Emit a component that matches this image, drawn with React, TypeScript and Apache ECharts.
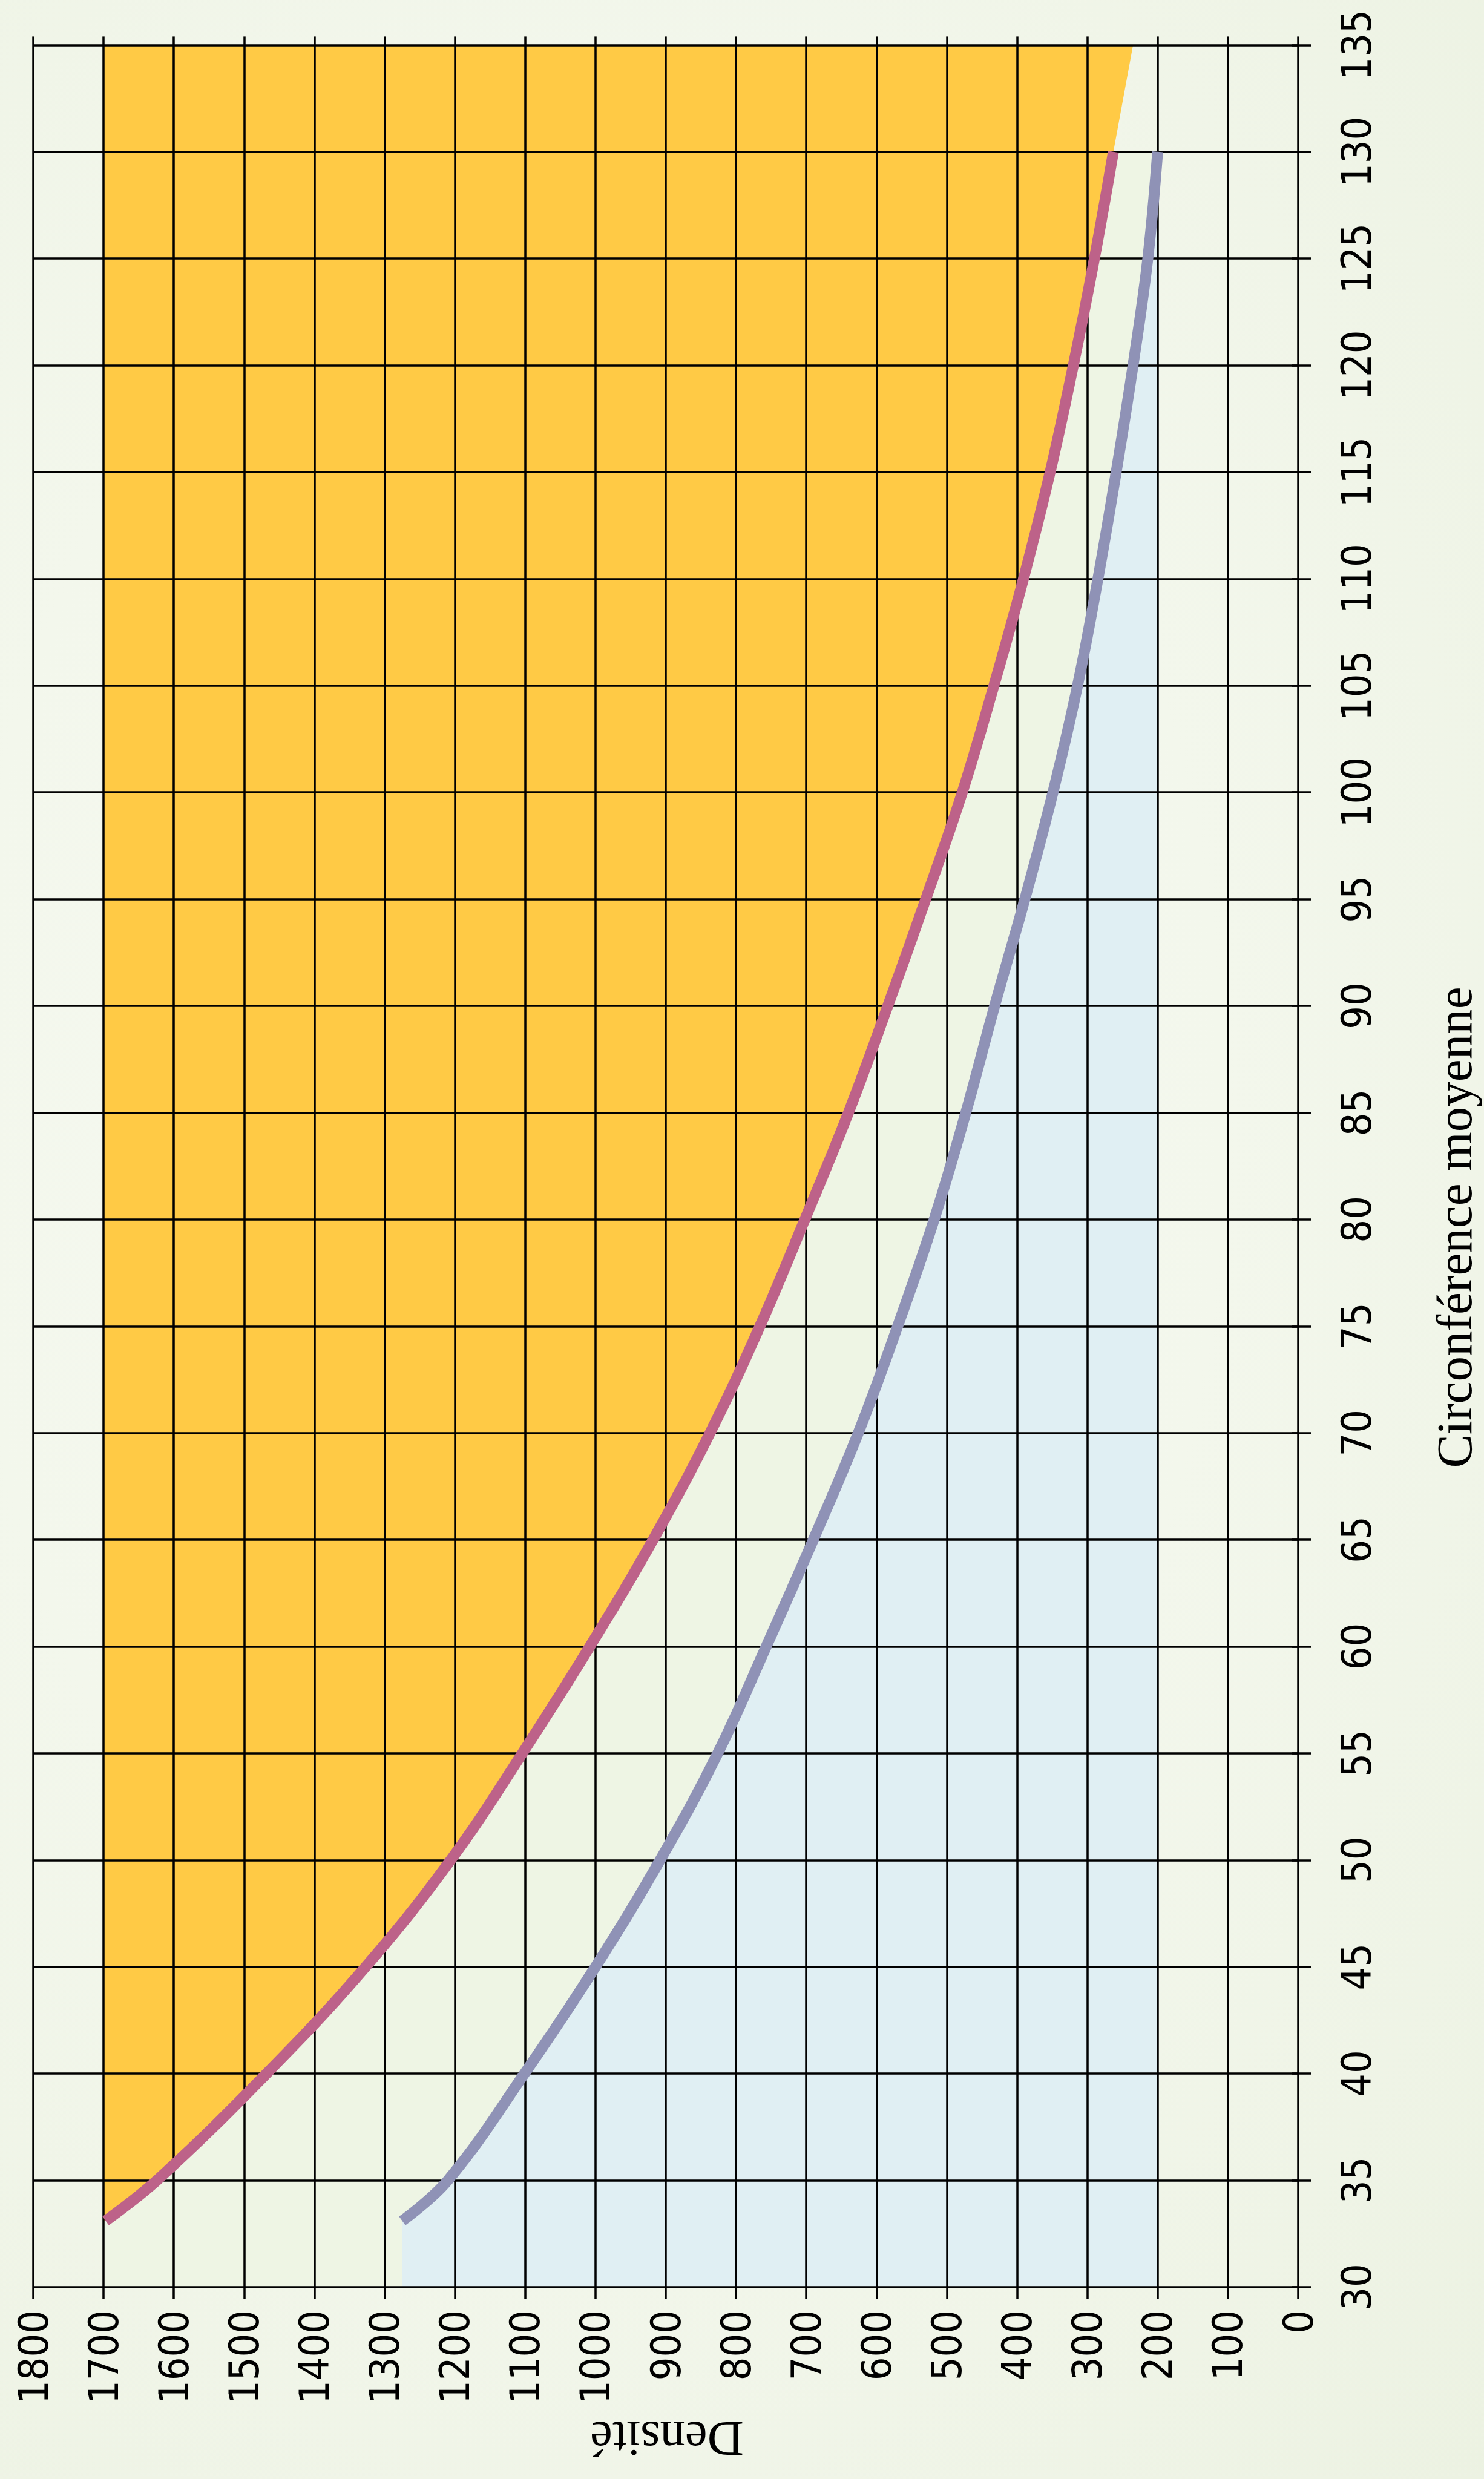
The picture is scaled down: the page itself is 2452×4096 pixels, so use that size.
import React, { useEffect, useRef } from "react";
import * as echarts from "echarts";

// Circonférence moyenne (axe vertical, 30 → 135)
const circonference = [33.1, 35, 40, 45, 50, 55, 60, 65, 70, 75, 80, 85, 90, 95, 100, 105, 110, 115, 120, 125, 130];
// Courbe haute (rouge) : densité
const densiteHaute = [1697, 1624, 1468, 1327, 1206, 1104, 1008, 918, 837, 766, 702, 640, 584, 530, 478, 433, 391, 353, 320, 290, 263];
// Courbe basse (bleue) : densité
const densiteBasse = [1275, 1210, 1101, 1000, 908, 826, 757, 690, 626, 570, 518, 473, 432, 389, 349, 314, 285, 259, 235, 214, 200];

// Limites des zones colorées
const densiteLimiteHaute = 1700;
const densiteLimiteBasse = 200;
const circMin = 30;
const circMax = 135;
const circFinCourbes = 130;
const prolongementOrange = [235, 135]; // [densité, circonférence]

const densiteMin = 0;
const densiteMax = 1800;
const densitePas = 100;
const circPas = 5;

const NAME_FONT = '"Liberation Serif", "DejaVu Serif", serif';

function fontAvailable(name: string): boolean {
  try {
    const ctx = document.createElement("canvas").getContext("2d");
    if (!ctx) return false;
    const sample = "mmmmlli1800WW";
    for (const base of ["monospace", "serif"]) {
      ctx.font = `72px ${base}`;
      const w1 = ctx.measureText(sample).width;
      ctx.font = `72px "${name}", ${base}`;
      const w2 = ctx.measureText(sample).width;
      if (Math.abs(w1 - w2) > 0.5) return true;
    }
  } catch (e) {
    return false;
  }
  return false;
}

function measure(font: string, text: string): number {
  const ctx = document.createElement("canvas").getContext("2d");
  if (!ctx) return 0;
  ctx.font = font;
  return ctx.measureText(text).width;
}

function pickTickFont(): { family: string; size: number } {
  const narrow = ["Liberation Sans Narrow", "Arial Narrow", "DejaVu Sans Condensed"];
  const targetWidth = 155; // largeur visée pour "1800"
  for (const n of narrow) {
    if (fontAvailable(n)) {
      const w = measure(`83px "${n}"`, "1800");
      const size = w > 0 ? Math.min(83, (83 * targetWidth) / w) : 83;
      return { family: `"${n}", sans-serif`, size };
    }
  }
  const fam = fontAvailable("Liberation Sans") ? '"Liberation Sans"' : "sans-serif";
  const w = measure(`83px ${fam}`, "1800");
  const size = w > 0 ? Math.min(83, (83 * targetWidth * 1.05) / w) : 72;
  return { family: `${fam}, sans-serif`, size };
}

function polygonSeries(points: number[][], color: string) {
  return {
    type: "custom",
    xAxisIndex: 0,
    yAxisIndex: 0,
    z: 0,
    silent: true,
    clip: false,
    data: [[points[0][0], points[0][1]]],
    renderItem: (_params: any, api: any) => {
      const pts = points.map((p) => api.coord([p[0], p[1]]));
      return { type: "polygon", shape: { points: pts }, style: { fill: color } };
    },
  };
}

export default function App() {
  const ref = useRef<HTMLDivElement>(null);

  useEffect(() => {
    if (!ref.current) return;
    const chart = echarts.init(ref.current, null, { renderer: "svg" });
    const tickFont = pickTickFont();

    const haute = circonference.map((c, i) => [densiteHaute[i], c]);
    const basse = circonference.map((c, i) => [densiteBasse[i], c]);

    const zoneVerte = [
      [densiteLimiteBasse, circMin],
      [densiteLimiteHaute, circMin],
      [densiteLimiteHaute, circFinCourbes],
      [densiteLimiteBasse, circFinCourbes],
    ];
    const zoneOrange = [
      [densiteLimiteHaute, circonference[0]],
      ...haute,
      prolongementOrange,
      [densiteLimiteHaute, circMax],
    ];
    const zoneBleue = [
      [densiteBasse[0], circMin],
      ...basse,
      [densiteLimiteBasse, circMin],
    ];

    const lineCol = "#000";
    const lw = 3.5;

    const option: any = {
      animation: false,
      backgroundColor: "transparent",
      grid: {
        left: 55,
        top: 74.4,
        width: 2090,
        height: 3704.5,
        containLabel: false,
        outerBoundsMode: "none",
      },
      xAxis: [
        {
          type: "value",
          min: densiteMin,
          max: densiteMax,
          interval: densitePas,
          inverse: true,
          position: "bottom",
          z: 1,
          axisLine: { show: false },
          axisTick: { show: true, length: 20, lineStyle: { color: lineCol, width: lw } },
          axisLabel: {
            rotate: 90,
            margin: 38,
            fontFamily: tickFont.family,
            fontSize: tickFont.size,
            color: "#000",
            showMinLabel: true,
            showMaxLabel: true,
            formatter: (v: number) => String(v),
          },
          splitLine: { show: true, lineStyle: { color: lineCol, width: lw } },
        },
        {
          type: "value",
          min: densiteMin,
          max: densiteMax,
          interval: densitePas,
          inverse: true,
          position: "top",
          z: 1,
          axisLine: { show: false },
          axisTick: { show: true, length: 14, lineStyle: { color: lineCol, width: lw } },
          axisLabel: { show: false },
          splitLine: { show: false },
        },
      ],
      yAxis: [
        {
          type: "value",
          min: circMin,
          max: circMax,
          interval: circPas,
          position: "right",
          z: 1,
          axisLine: { show: false },
          axisTick: { show: true, length: 21, lineStyle: { color: lineCol, width: lw } },
          axisLabel: {
            rotate: 90,
            margin: 62,
            fontFamily: tickFont.family,
            fontSize: tickFont.size,
            color: "#000",
            showMinLabel: true,
            showMaxLabel: true,
            formatter: (v: number) => String(v),
          },
          splitLine: { show: true, lineStyle: { color: lineCol, width: lw } },
        },
        {
          type: "value",
          min: circMin,
          max: circMax,
          interval: circPas,
          position: "left",
          z: 1,
          axisLine: { show: false },
          axisTick: { show: true, length: 10, lineStyle: { color: lineCol, width: lw } },
          axisLabel: { show: false },
          splitLine: { show: false },
        },
      ],
      series: [
        polygonSeries(zoneVerte, "#EEF5E4"),
        polygonSeries(zoneBleue, "#E0EFF3"),
        polygonSeries(zoneOrange, "#FFCA45"),
        {
          type: "line",
          xAxisIndex: 0,
          yAxisIndex: 0,
          z: 5,
          data: basse,
          showSymbol: false,
          symbol: "none",
          silent: true,
          smooth: 0.4,
          lineStyle: { color: "#8F92B6", width: 18, cap: "butt" },
        },
        {
          type: "line",
          xAxisIndex: 0,
          yAxisIndex: 0,
          z: 5,
          data: haute,
          showSymbol: false,
          symbol: "none",
          silent: true,
          smooth: 0.4,
          lineStyle: { color: "#BD6289", width: 18, cap: "butt" },
        },
      ],
      graphic: [
        {
          type: "text",
          x: 2403,
          y: 2028,
          rotation: Math.PI / 2,
          style: {
            text: "Circonférence moyenne",
            fontFamily: NAME_FONT,
            fontSize: 83,
            fill: "#000",
            align: "center",
            verticalAlign: "middle",
          },
        },
        {
          type: "text",
          x: 1102,
          y: 4030,
          rotation: Math.PI,
          style: {
            text: "Densité",
            fontFamily: NAME_FONT,
            fontSize: 83,
            fill: "#000",
            align: "center",
            verticalAlign: "middle",
          },
        },
      ],
    };

    chart.setOption(option);
    return () => {
      chart.dispose();
    };
  }, []);

  return (
    <div
      ref={ref}
      style={{
        position: "absolute",
        left: 0,
        top: 0,
        width: 2452,
        height: 4096,
        background:
          "radial-gradient(ellipse at 40% 45%, #F8FAF4 0%, #F3F7EC 50%, #ECF2E2 100%)",
      }}
    />
  );
}
